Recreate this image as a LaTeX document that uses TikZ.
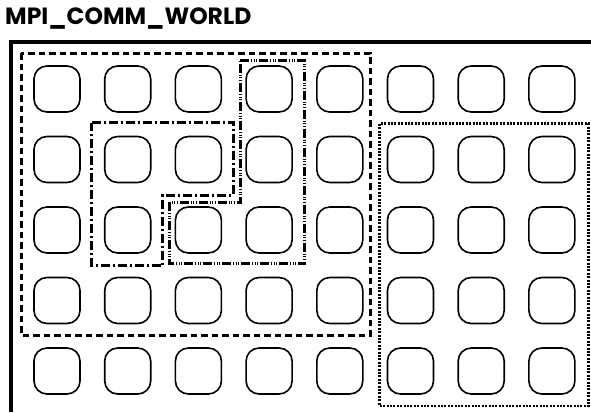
\documentclass[tikz,border=0pt]{standalone}
\usepackage{fontspec}
\setsansfont{Poppins}
\usetikzlibrary{calc,positioning}
\tikzset{
  proc/.style  ={rectangle,draw,rounded corners=13pt,line width=1.6pt,
                 minimum size=46pt,inner sep=0pt},
  world/.style ={line width=4pt},
  grpa/.style  ={line width=3pt,dash pattern=on 6.5pt off 4pt},
  grpb/.style  ={line width=3pt,dash pattern=on 9pt off 3pt on 2pt off 3pt},
  grpc/.style  ={line width=3pt,dash pattern=on 9pt off 2pt on 1pt off 1.5pt
                 on 1pt off 1.5pt on 1pt off 2pt},
  grpd/.style  ={line width=2.6pt,dash pattern=on 2pt off 1.4pt},
  ttl/.style   ={font=\sffamily\bfseries\fontsize{23.5}{26}\selectfont,
                 inner sep=0pt,anchor=west},
}

\begin{document}
\begin{tikzpicture}[x=1pt,y=-1pt]
  \useasboundingbox (0,0) rectangle (591,412);
  \node[ttl] (title) at (5,19) {MPI\_COMM\_WORLD};
  \draw[world] (591,42) -| (11,412);
  % processes
  \foreach \r in {1,...,5}
    \foreach \c in {1,...,8}
      \node[proc] (p-\r-\c) at ({57+70.7*(\c-1)},{89+70.5*(\r-1)}) {};
  % groups
  \draw[grpa] ($(p-1-1.north west)+(-12,-12)$) rectangle
              ($(p-4-5.south east)+(7,11)$);
  \draw[grpd] ($(p-2-6.north west)+(-7,-12)$) rectangle
              ($(p-5-8.south east)+(13,11)$);
  \draw[grpb] ($(p-2-2.north west)+(-12,-13)$) -- ($(p-2-3.north east)+(11,-13)$)
           -- ($(p-2-3.south east)+(11,12)$)   -- ($(p-2-2.south east)+(11,12)$)
           -- ($(p-3-2.south east)+(11,12)$)   -- ($(p-3-2.south west)+(-12,12)$)
           -- cycle;
  \draw[grpc] ($(p-1-4.north west)+(-5,-5)$)   -- ($(p-1-4.north east)+(12,-5)$)
           -- ($(p-3-4.south east)+(12,10)$)   -- ($(p-3-3.south west)+(-5,10)$)
           -- ($(p-3-3.north west)+(-5,-4)$)   -- ($(p-3-4.north west)+(-5,-4)$)
           -- cycle;
\end{tikzpicture}
\end{document}
